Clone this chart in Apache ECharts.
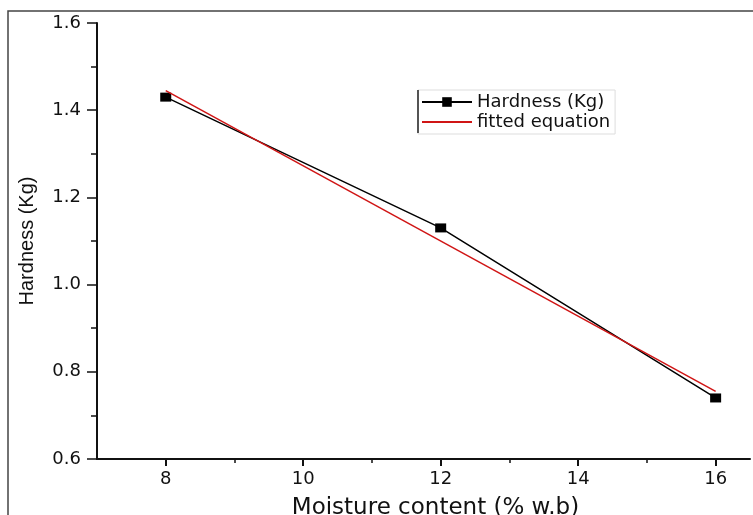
<!DOCTYPE html>
<html><head><meta charset="utf-8">
<script src="https://cdn.jsdelivr.net/npm/echarts@6/dist/echarts.min.js"></script>
<style>html,body{margin:0;padding:0;background:#fff}#c{width:753px;height:515px}</style>
</head><body><div id="c"></div>
<script>
const moisture = [8, 12, 16];
const hardness = [1.43, 1.13, 0.74];
const fitX = [8, 16];
const fitY = [1.445, 0.755];
const xTicks = [8, 10, 12, 14, 16];
const xMinorTicks = [9, 11, 13, 15];
const yTicks = [0.6, 0.8, 1.0, 1.2, 1.4, 1.6];

const chart = echarts.init(document.getElementById('c'));
const wide = '"DejaVu Sans", sans-serif';
const narrow = '"Liberation Sans", Arial, sans-serif';
chart.setOption({
  animation: false,
  grid: {left: 97, right: 3, top: 23, bottom: 56, outerBoundsMode: 'none', containLabel: false},
  graphic: [
    {type: 'rect', shape: {x: 8, y: 11, width: 760, height: 520}, style: {fill: 'none', stroke: '#444', lineWidth: 1.5}, silent: true},
    {type: 'line', shape: {x1: 418, y1: 90, x2: 418, y2: 133}, style: {stroke: '#222', lineWidth: 1.5}, z: 100}
  ],
  legend: {
    left: 418, top: 90, orient: 'vertical', itemGap: 2, itemWidth: 50, itemHeight: 12,
    padding: [3, 5, 3, 3], borderColor: '#ddd', borderWidth: 1,
    textStyle: {fontFamily: wide, fontSize: 18, color: '#111'},
    data: [{name: 'Hardness (Kg)'}, {name: 'fitted equation', itemStyle: {opacity: 0}}]
  },
  xAxis: [{
    type: 'value', min: 7, max: 16.5, interval: 1,
    name: 'Moisture content (% w.b)', nameLocation: 'middle', nameGap: 38,
    nameTextStyle: {fontFamily: wide, fontSize: 23, color: '#111', padding: [0, 0, 0, 24]},
    axisLine: {lineStyle: {color: '#111', width: 2}},
    axisTick: {show: true, length: 7, lineStyle: {color: '#111', width: 2}, customValues: xTicks},
    axisLabel: {fontFamily: wide, fontSize: 18, color: '#111', margin: 11, customValues: xTicks},
    splitLine: {show: false}
  }, {
    type: 'value', min: 7, max: 16.5, position: 'bottom',
    axisLine: {show: false},
    axisTick: {show: true, length: 4, lineStyle: {color: '#111', width: 1.5}, customValues: xMinorTicks},
    axisLabel: {show: false},
    splitLine: {show: false}
  }],
  yAxis: {
    type: 'value', min: 0.6, max: 1.6, interval: 0.2,
    name: 'Hardness (Kg)', nameLocation: 'middle', nameGap: 60, nameRotate: 90,
    nameTextStyle: {fontFamily: narrow, fontSize: 20, color: '#111'},
    axisLine: {show: true, lineStyle: {color: '#111', width: 2}},
    axisTick: {show: true, length: 10, lineStyle: {color: '#111', width: 1.5}},
    minorTick: {show: true, splitNumber: 2, length: 6, lineStyle: {color: '#111', width: 1.5}},
    axisLabel: {fontFamily: wide, fontSize: 18, color: '#111', margin: 16, formatter: v => v.toFixed(1)},
    splitLine: {show: false}
  },
  series: [
    {name: 'Hardness (Kg)', type: 'line', data: moisture.map((x, i) => [x, hardness[i]]),
     symbol: 'rect', symbolSize: [11, 9], itemStyle: {color: '#000'}, lineStyle: {color: '#000', width: 1.5}, z: 2},
    {name: 'fitted equation', type: 'line', data: fitX.map((x, i) => [x, fitY[i]]),
     symbol: 'none', itemStyle: {color: '#d01515'}, lineStyle: {color: '#d01515', width: 1.5}, z: 3}
  ]
});
</script></body></html>
